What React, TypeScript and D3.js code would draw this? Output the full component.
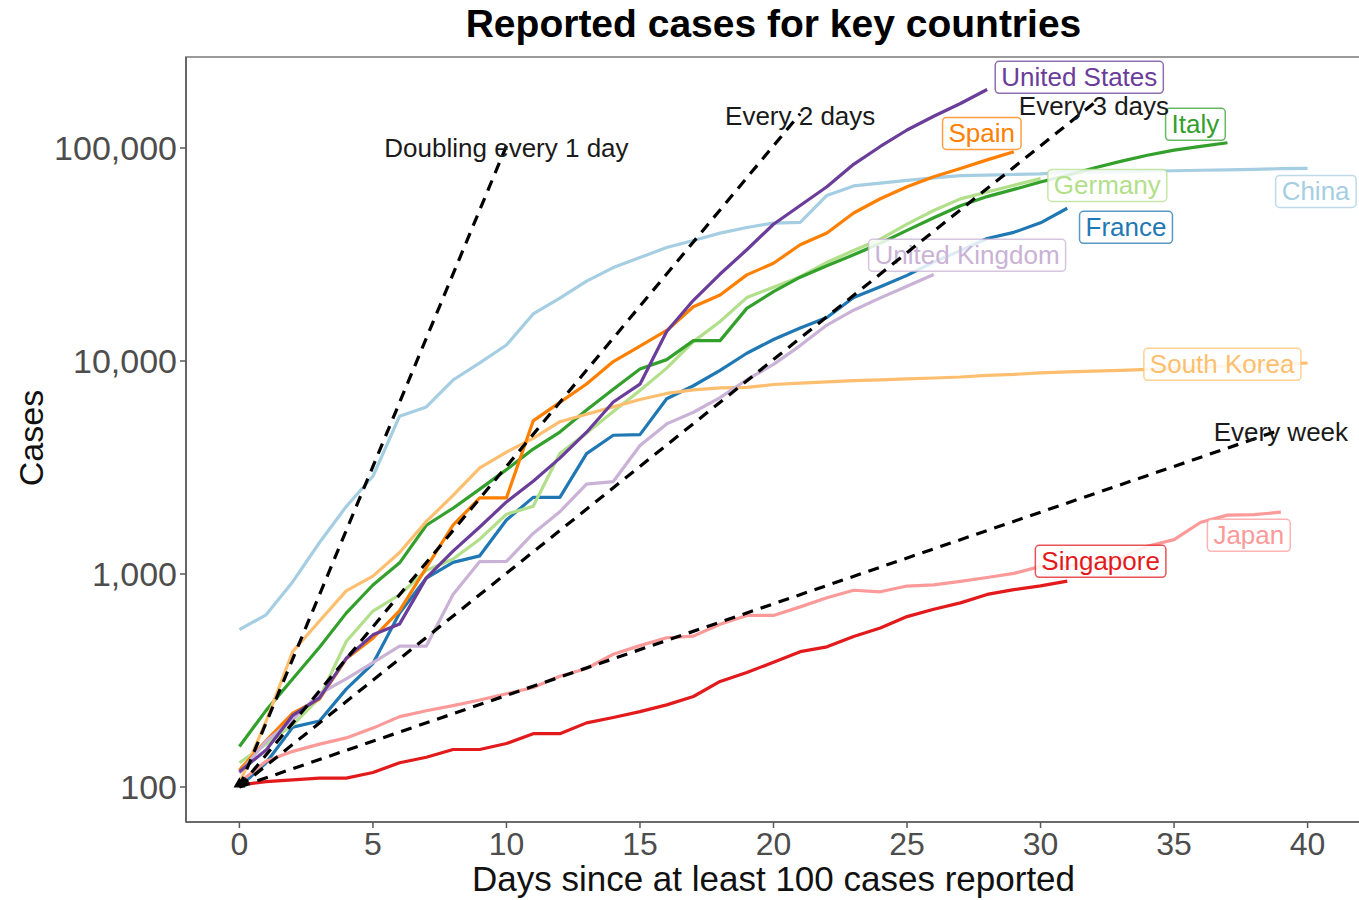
import React, { useEffect, useRef } from 'react';
import * as d3 from 'd3';

// countries, in ggplot group order (alphabetical)
const countries = ['China', 'France', 'Germany', 'Italy', 'Japan', 'Singapore', 'South Korea', 'Spain', 'United Kingdom', 'United States'];
const countryColors = ['#a6cee3', '#1f78b4', '#b2df8a', '#33a02c', '#fb9a99', '#e31a1c', '#fdbf6f', '#ff7f00', '#cab2d6', '#6a3d9a'];

// cumulative cases, index = days since at least 100 cases
const chinaCases = [548, 643, 920, 1406, 2075, 2877, 5509, 6087, 8141, 9802, 11891, 16630, 19716, 23707, 27440, 30587, 34110, 36814, 39829, 42354, 44386, 44759, 59895, 66358, 68413, 70513, 72434, 74211, 74619, 75077, 75550, 77001, 77022, 77241, 77754, 78166, 78600, 78928, 79356, 79932, 80136];
const franceCases = [100, 130, 191, 204, 288, 380, 656, 957, 1134, 1217, 1792, 2289, 2289, 3672, 4480, 4513, 6650, 7652, 9043, 10871, 12612, 14282, 16018, 19856, 22304, 25233, 29155, 32964, 37575, 40174, 44550, 52128];
const germanyCases = [130, 159, 196, 262, 482, 670, 799, 1040, 1176, 1457, 1908, 2078, 3675, 4585, 5795, 7272, 9257, 12327, 15320, 19848, 22213, 24873, 29056, 32986, 37323, 43938, 50871, 57695, 62095, 66885, 71808];
const italyCases = [155, 229, 322, 453, 655, 888, 1128, 1694, 2036, 2502, 3089, 3858, 4636, 5883, 7375, 9172, 10149, 12462, 12462, 17660, 21157, 24747, 27980, 31506, 35713, 41035, 47021, 53578, 59138, 63927, 69176, 74386, 80589, 86498, 92472, 97689, 101739, 105792];
const japanCases = [105, 132, 147, 159, 170, 189, 214, 228, 241, 256, 274, 293, 331, 360, 420, 461, 502, 511, 581, 639, 639, 701, 773, 839, 825, 878, 889, 924, 963, 1007, 1086, 1086, 1128, 1193, 1350, 1450, 1750, 1890, 1900, 1950];
const singaporeCases = [102, 106, 108, 110, 110, 117, 130, 138, 150, 150, 160, 178, 178, 200, 212, 226, 243, 266, 313, 345, 385, 432, 455, 509, 558, 631, 683, 732, 802, 844, 879, 926];
const koreaCases = [104, 204, 433, 602, 833, 977, 1261, 1766, 2337, 3150, 3736, 4335, 5186, 5621, 6088, 6593, 7041, 7314, 7478, 7513, 7755, 7869, 7979, 8086, 8162, 8236, 8320, 8413, 8565, 8652, 8799, 8897, 8961, 9037, 9137, 9241, 9332, 9478, 9583, 9661, 9786];
const spainCases = [120, 165, 222, 259, 400, 500, 673, 1073, 1695, 2277, 2277, 5232, 6391, 7798, 9942, 11748, 13910, 17963, 20410, 25374, 28768, 35136, 39885, 49515, 57786, 65719, 73235, 80110, 87956, 95923];
const ukCases = [116, 164, 207, 274, 322, 384, 459, 459, 802, 1144, 1145, 1551, 1960, 2642, 2716, 4014, 5067, 5745, 6726, 8164, 9640, 11812, 14745, 17312, 19780, 22453, 25481];
const usCases = [118, 149, 217, 262, 402, 518, 583, 959, 1281, 1663, 2179, 2727, 3499, 4632, 6421, 7783, 13747, 19273, 25600, 33276, 43847, 53740, 65778, 83836, 101657, 121478, 140886, 161807, 188172];

const seriesCases = [chinaCases, franceCases, germanyCases, italyCases, japanCases, singaporeCases, koreaCases, spainCases, ukCases, usCases];

// where the repelled labels ended up (day, cases)
const labelDay = [40.3, 33.2, 32.5, 35.8, 37.8, 32.25, 36.8, 27.8, 27.25, 31.45];
const labelCases = [62800, 42600, 67000, 129700, 1525, 1151, 9680, 117500, 31450, 215400];

// doubling-time guide lines
const doublingTime = [1, 2, 3, 7];
const doublingEndDay = [10, 21, 32, 39];
const doublingText = ['Doubling every 1 day', 'Every 2 days', 'Every 3 days', 'Every week'];

const xTicks = [0, 5, 10, 15, 20, 25, 30, 35, 40];
const yTicks = [100, 1000, 10000, 100000];

const FONT = "'Liberation Sans', Arial, sans-serif";

export default function App() {
  const ref = useRef<SVGSVGElement>(null);

  useEffect(() => {
    const svg = d3.select(ref.current);
    svg.selectAll('*').remove();

    const panel = { left: 186, right: 1361, top: 57, bottom: 822 };
    const x = d3.scaleLinear().domain([-2, 42]).range([panel.left, panel.right]);
    const y = d3.scaleLog().domain([68.5, 267400]).range([panel.bottom, panel.top]);

    svg.append('rect').attr('width', 1359).attr('height', 900).attr('fill', '#fff');

    // title
    svg.append('text')
      .attr('x', (panel.left + panel.right) / 2).attr('y', 37)
      .attr('text-anchor', 'middle')
      .attr('font-family', FONT).attr('font-weight', 'bold').attr('font-size', 39)
      .attr('fill', '#000')
      .text('Reported cases for key countries');

    svg.append('defs').append('clipPath').attr('id', 'panel-clip')
      .append('rect')
      .attr('x', panel.left).attr('y', panel.top)
      .attr('width', panel.right - panel.left).attr('height', panel.bottom - panel.top);

    // panel border
    svg.append('rect')
      .attr('x', panel.left).attr('y', panel.top)
      .attr('width', panel.right - panel.left).attr('height', panel.bottom - panel.top)
      .attr('fill', 'none').attr('stroke', '#9a9a9a').attr('stroke-width', 2);
    svg.append('line')
      .attr('x1', panel.left).attr('x2', panel.left).attr('y1', panel.top).attr('y2', panel.bottom)
      .attr('stroke', '#5a5a5a').attr('stroke-width', 1.6);
    svg.append('line')
      .attr('x1', panel.left).attr('x2', panel.right).attr('y1', panel.bottom).attr('y2', panel.bottom)
      .attr('stroke', '#5a5a5a').attr('stroke-width', 1.6);

    // y axis
    const yAxis = svg.append('g');
    yTicks.forEach((t) => {
      yAxis.append('line')
        .attr('x1', panel.left - 6).attr('x2', panel.left)
        .attr('y1', y(t)).attr('y2', y(t))
        .attr('stroke', '#5a5a5a').attr('stroke-width', 1.5);
      yAxis.append('text')
        .attr('x', panel.left - 9).attr('y', y(t)).attr('dy', '0.36em')
        .attr('text-anchor', 'end')
        .attr('font-family', FONT).attr('font-size', 34).attr('fill', '#4d4d4d')
        .text(d3.format(',')(t));
    });

    // x axis
    const xAxis = svg.append('g');
    xTicks.forEach((t) => {
      xAxis.append('line')
        .attr('x1', x(t)).attr('x2', x(t))
        .attr('y1', panel.bottom).attr('y2', panel.bottom + 6)
        .attr('stroke', '#5a5a5a').attr('stroke-width', 1.5);
      xAxis.append('text')
        .attr('x', x(t)).attr('y', panel.bottom + 33)
        .attr('text-anchor', 'middle')
        .attr('font-family', FONT).attr('font-size', 32).attr('fill', '#4d4d4d')
        .text(t);
    });

    svg.append('text')
      .attr('x', (panel.left + panel.right) / 2).attr('y', 891)
      .attr('text-anchor', 'middle')
      .attr('font-family', FONT).attr('font-size', 35).attr('fill', '#111')
      .text('Days since at least 100 cases reported');

    svg.append('text')
      .attr('transform', 'translate(43,438) rotate(-90)')
      .attr('text-anchor', 'middle')
      .attr('font-family', FONT).attr('font-size', 34).attr('fill', '#111')
      .text('Cases');

    const plot = svg.append('g').attr('clip-path', 'url(#panel-clip)');

    // country lines
    const line = d3.line<number>()
      .x((_, i) => x(i))
      .y((v) => y(v));
    seriesCases.forEach((cases, i) => {
      plot.append('path')
        .attr('d', line(cases))
        .attr('fill', 'none')
        .attr('stroke', countryColors[i])
        .attr('stroke-width', 3.2)
        .attr('stroke-linejoin', 'round')
        .attr('stroke-linecap', 'butt');
    });

    // country labels
    const labels = svg.append('g');
    countries.forEach((name, i) => {
      const g = labels.append('g');
      const rect = g.append('rect');
      const txt = g.append('text')
        .attr('x', x(labelDay[i])).attr('y', y(labelCases[i])).attr('dy', '0.36em')
        .attr('text-anchor', 'middle')
        .attr('font-family', FONT).attr('font-size', 26)
        .attr('fill', countryColors[i])
        .text(name);
      const bb = (txt.node() as SVGTextElement).getBBox();
      rect.attr('x', bb.x - 6).attr('y', bb.y - 1)
        .attr('width', bb.width + 12).attr('height', bb.height + 2)
        .attr('rx', 4)
        .attr('fill', '#fff').attr('fill-opacity', 0.85)
        .attr('stroke', countryColors[i]).attr('stroke-opacity', 0.75).attr('stroke-width', 1.5);
    });

    // doubling guide lines
    const guides = svg.append('g').attr('clip-path', 'url(#panel-clip)');
    doublingTime.forEach((dt, i) => {
      const end = doublingEndDay[i];
      const pts: [number, number][] = [[0, 100], [end, 100 * Math.pow(2, end / dt)]];
      guides.append('path')
        .attr('d', d3.line<[number, number]>().x((p) => x(p[0])).y((p) => y(p[1]))(pts))
        .attr('fill', 'none')
        .attr('stroke', '#000')
        .attr('stroke-width', 3.2)
        .attr('stroke-dasharray', '11,8');
    });
    doublingTime.forEach((dt, i) => {
      const end = doublingEndDay[i];
      svg.append('text')
        .attr('x', x(end)).attr('y', y(100 * Math.pow(2, end / dt))).attr('dy', '0.45em')
        .attr('text-anchor', 'middle')
        .attr('font-family', FONT).attr('font-size', 26).attr('fill', '#1a1a1a')
        .text(doublingText[i]);
    });

    // origin marker
    svg.append('path')
      .attr('d', d3.symbol(d3.symbolTriangle, 60)())
      .attr('transform', `translate(${x(0)},${y(100) - 3})`)
      .attr('fill', '#000');
  }, []);

  return (
    <svg
      ref={ref}
      width={1359}
      height={900}
      style={{ position: 'absolute', left: 0, top: 0, display: 'block' }}
    />
  );
}
